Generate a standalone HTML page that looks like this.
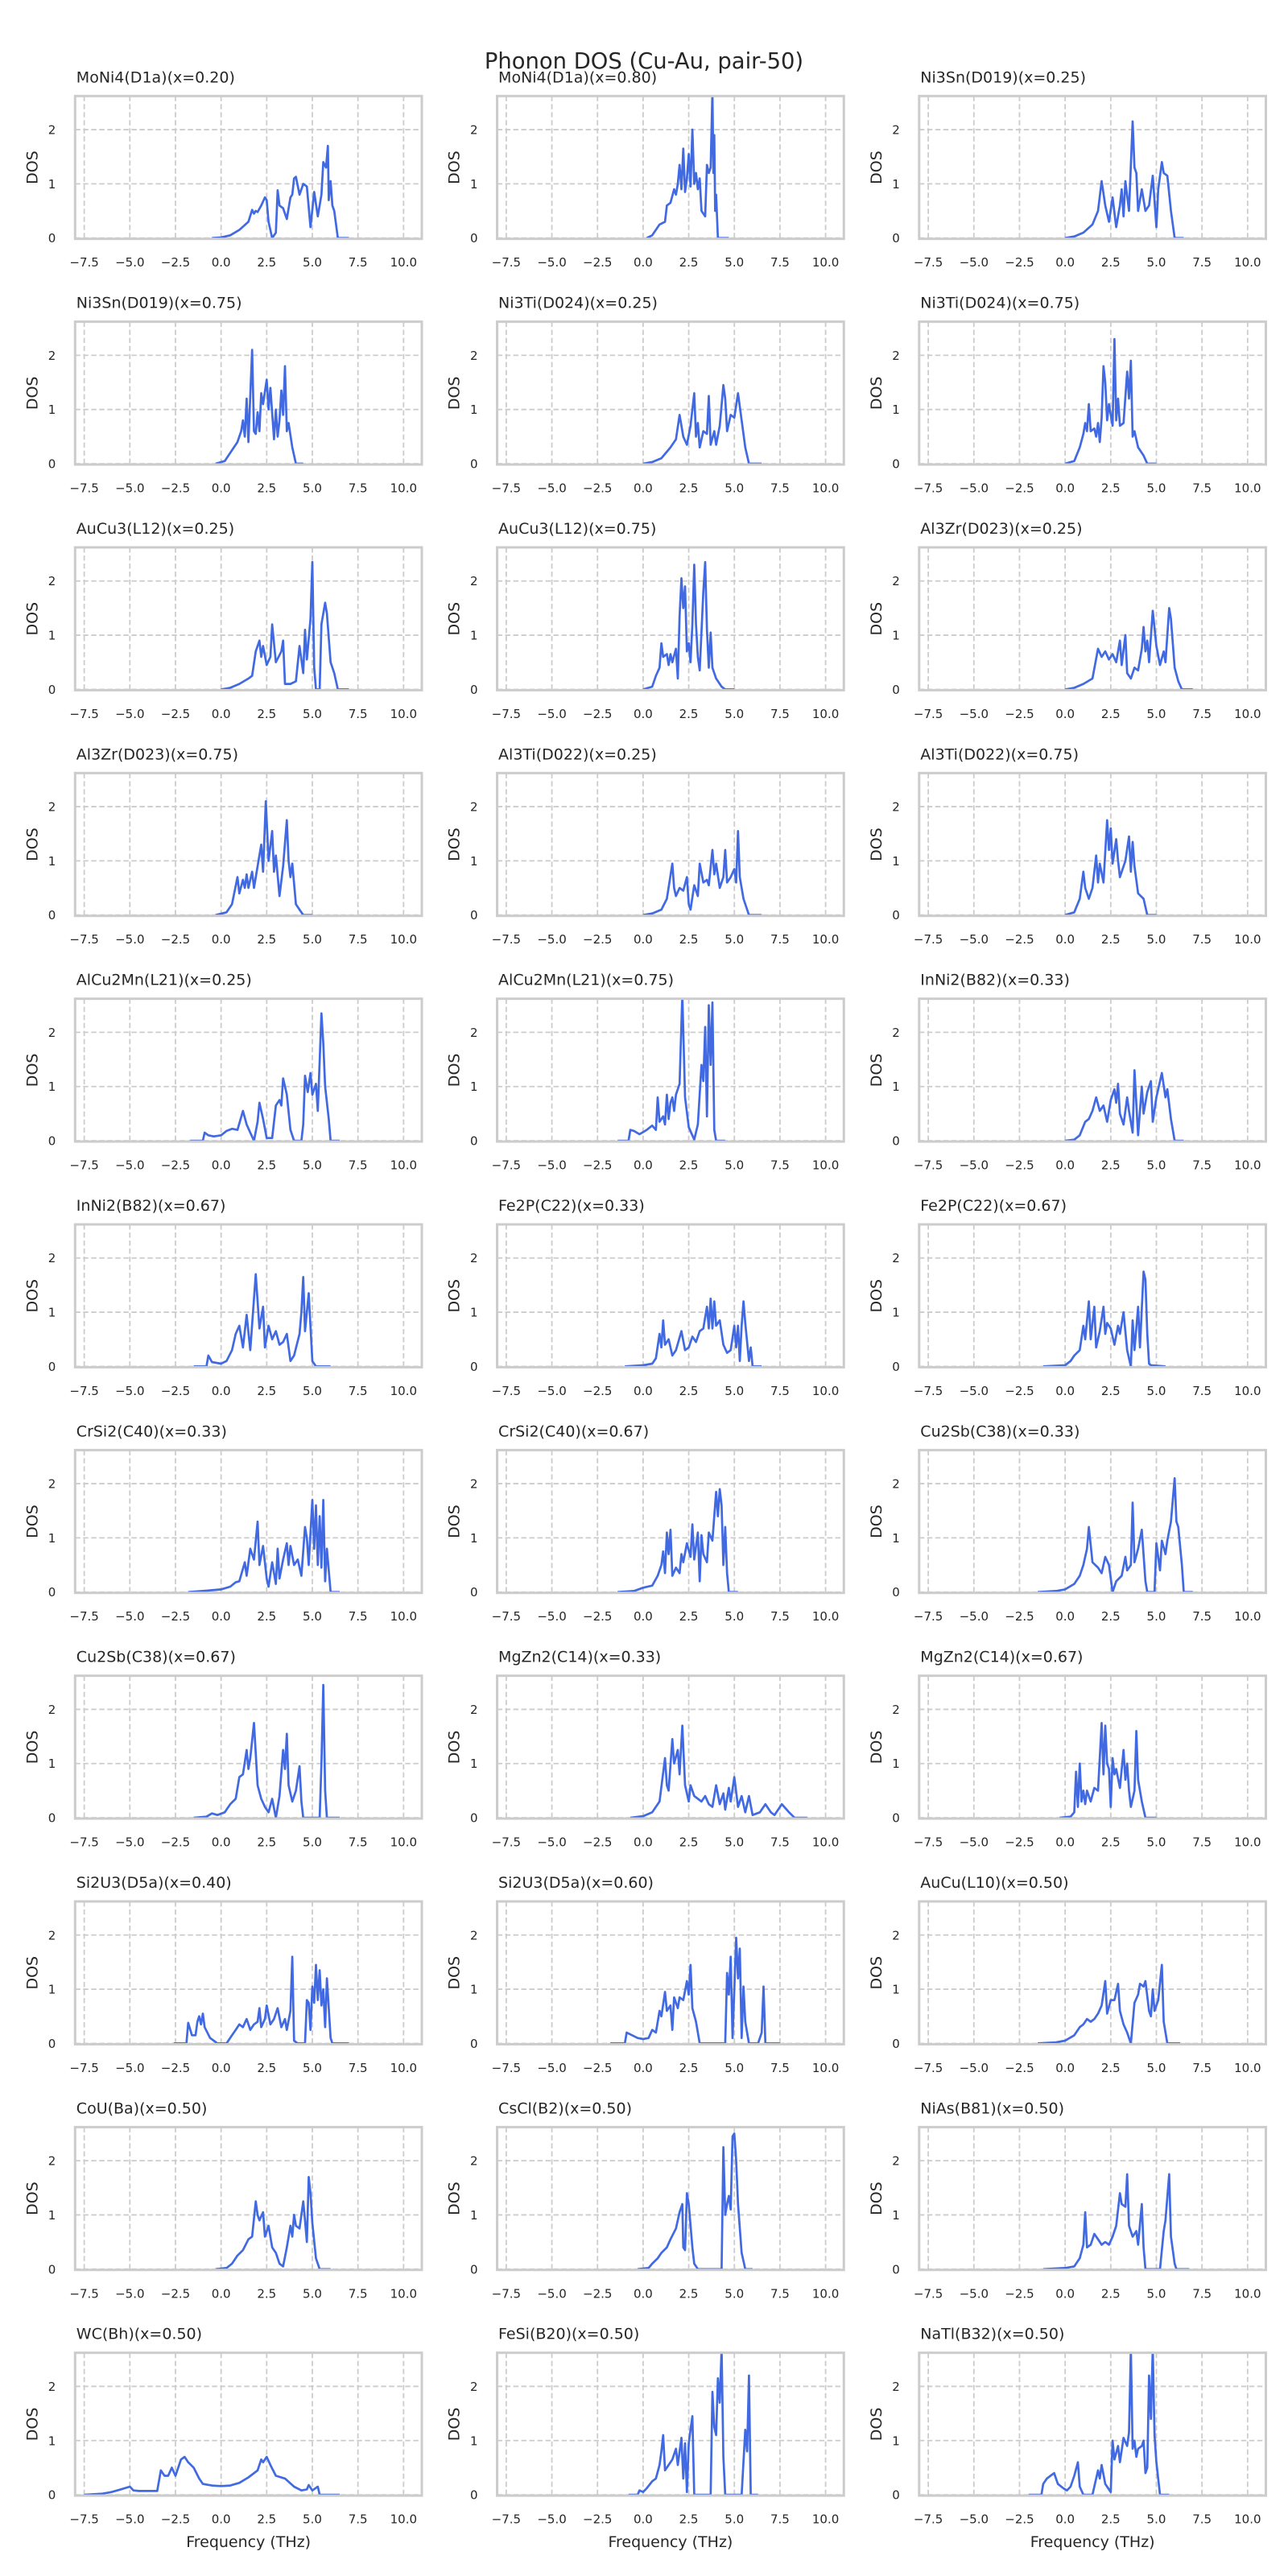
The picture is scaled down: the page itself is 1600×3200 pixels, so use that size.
<!DOCTYPE html>
<html><head><meta charset="utf-8">
<style>
html,body{margin:0;padding:0;background:#fff;}
svg{display:block;font-family:"DejaVu Sans","Liberation Sans",sans-serif;}
</style></head>
<body>
<svg id="fig" width="1600" height="3200" viewBox="0 0 1600 3200" xmlns="http://www.w3.org/2000/svg">
<rect x="0" y="0" width="1600" height="3200" fill="#fff"/>
<text x="800" y="85" text-anchor="middle" font-size="27.4" fill="#262626">Phonon DOS (Cu-Au, pair-50)</text>
</svg>
<script>
const titles = ["MoNi4(D1a)(x=0.20)","MoNi4(D1a)(x=0.80)","Ni3Sn(D019)(x=0.25)","Ni3Sn(D019)(x=0.75)","Ni3Ti(D024)(x=0.25)","Ni3Ti(D024)(x=0.75)","AuCu3(L12)(x=0.25)","AuCu3(L12)(x=0.75)","Al3Zr(D023)(x=0.25)","Al3Zr(D023)(x=0.75)","Al3Ti(D022)(x=0.25)","Al3Ti(D022)(x=0.75)","AlCu2Mn(L21)(x=0.25)","AlCu2Mn(L21)(x=0.75)","InNi2(B82)(x=0.33)","InNi2(B82)(x=0.67)","Fe2P(C22)(x=0.33)","Fe2P(C22)(x=0.67)","CrSi2(C40)(x=0.33)","CrSi2(C40)(x=0.67)","Cu2Sb(C38)(x=0.33)","Cu2Sb(C38)(x=0.67)","MgZn2(C14)(x=0.33)","MgZn2(C14)(x=0.67)","Si2U3(D5a)(x=0.40)","Si2U3(D5a)(x=0.60)","AuCu(L10)(x=0.50)","CoU(Ba)(x=0.50)","CsCl(B2)(x=0.50)","NiAs(B81)(x=0.50)","WC(Bh)(x=0.50)","FeSi(B20)(x=0.50)","NaTl(B32)(x=0.50)"];
const xTicks = [-7.5,-5.0,-2.5,0.0,2.5,5.0,7.5,10.0];
const xTickLabels = ["\u22127.5","\u22125.0","\u22122.5","0.0","2.5","5.0","7.5","10.0"];
const yTicks = [0,1,2];
const yTickLabels = ["0","1","2"];
const xDomain = [-8, 11];
const yDomain = [-0.015, 2.62];
// each series: [frequency (THz), DOS] pairs
const dosSeries = [
[[-0.5,0],[0,0.01],[0.5,0.05],[1,0.15],[1.5,0.3],[1.7,0.52],[1.8,0.45],[1.9,0.5],[2.0,0.48],[2.2,0.6],[2.4,0.75],[2.5,0.7],[2.6,0.3],[2.8,0],[3.0,0.1],[3.1,0.88],[3.2,0.6],[3.4,0.55],[3.6,0.35],[3.8,0.75],[3.9,0.8],[4.0,1.1],[4.1,1.13],[4.3,0.8],[4.5,1.0],[4.7,0.95],[4.9,0.2],[5.1,0.85],[5.3,0.4],[5.5,0.8],[5.6,1.4],[5.75,1.3],[5.85,1.7],[5.9,0.7],[6.0,1.05],[6.1,0.6],[6.2,0.5],[6.4,0],[7.0,0]],
[[0.2,0],[0.5,0.05],[0.9,0.25],[1.2,0.3],[1.3,0.6],[1.5,0.65],[1.7,0.9],[1.8,0.8],[1.9,1.0],[2.0,1.35],[2.1,0.9],[2.2,1.65],[2.3,0.85],[2.4,1.1],[2.5,1.55],[2.6,0.95],[2.7,2.0],[2.8,1.0],[2.9,1.2],[3.0,0.9],[3.1,1.1],[3.2,0.5],[3.4,0.4],[3.5,1.35],[3.6,1.2],[3.7,1.3],[3.8,2.7],[3.85,1.2],[3.9,1.9],[3.95,0.5],[4.0,0.8],[4.1,0],[4.7,0]],
[[0,0],[0.5,0.03],[1.0,0.1],[1.4,0.22],[1.5,0.25],[1.8,0.5],[2.0,1.05],[2.2,0.6],[2.4,0.3],[2.6,0.75],[2.8,0.2],[3.0,0.6],[3.1,0.9],[3.2,0.4],[3.3,1.05],[3.5,0.5],[3.7,2.15],[3.8,1.3],[3.9,1.2],[4.0,0.5],[4.2,0.9],[4.4,0.5],[4.6,0.6],[4.8,1.15],[5.0,0.2],[5.1,0.9],[5.3,1.4],[5.4,1.2],[5.6,1.15],[5.8,0.5],[6.0,0],[6.5,0]],
[[-0.3,0],[0.2,0.05],[0.6,0.25],[0.9,0.4],[1.1,0.6],[1.2,0.8],[1.3,0.5],[1.4,1.2],[1.5,0.4],[1.7,2.1],[1.8,0.6],[1.9,0.55],[2.0,0.95],[2.1,0.6],[2.2,1.3],[2.3,1.1],[2.5,1.55],[2.6,1.0],[2.7,1.4],[2.9,0.45],[3.0,1.0],[3.1,0.5],[3.2,0.8],[3.3,1.35],[3.4,0.9],[3.5,1.8],[3.6,0.6],[3.7,0.75],[3.9,0.3],[4.1,0],[4.5,0]],
[[0,0],[0.5,0.03],[1.0,0.1],[1.5,0.3],[1.8,0.45],[2.0,0.9],[2.2,0.5],[2.4,0.35],[2.6,0.7],[2.8,1.3],[2.9,0.5],[3.0,0.75],[3.1,0.3],[3.3,0.6],[3.5,0.55],[3.6,1.25],[3.7,0.35],[3.9,0.6],[4.0,0.35],[4.2,0.7],[4.4,1.45],[4.5,1.2],[4.6,0.6],[4.8,0.9],[5.0,0.85],[5.2,1.3],[5.4,0.8],[5.6,0.3],[5.8,0],[6.5,0]],
[[0,0],[0.5,0.05],[0.8,0.3],[1.0,0.55],[1.1,0.75],[1.2,0.6],[1.3,1.1],[1.4,0.6],[1.6,0.65],[1.7,0.5],[1.8,0.75],[1.9,0.4],[2.0,0.85],[2.1,1.8],[2.2,1.5],[2.3,0.8],[2.4,1.1],[2.6,0.7],[2.7,2.3],[2.8,0.8],[2.9,1.2],[3.0,0.7],[3.2,0.75],[3.4,1.7],[3.5,1.2],[3.6,1.9],[3.7,0.5],[3.8,0.6],[4.0,0.3],[4.3,0.15],[4.5,0],[5.0,0]],
[[0,0],[0.5,0.03],[1.0,0.1],[1.5,0.2],[1.7,0.25],[1.9,0.7],[2.1,0.9],[2.2,0.6],[2.3,0.8],[2.5,0.45],[2.7,0.6],[2.8,1.2],[3.0,0.5],[3.3,0.7],[3.4,0.9],[3.5,0.1],[3.8,0.1],[4.1,0.15],[4.3,0.8],[4.5,0.3],[4.6,1.1],[4.7,0.55],[4.9,1.3],[5.0,2.35],[5.1,0.4],[5.2,0],[5.4,0],[5.5,1.2],[5.7,1.6],[5.8,1.4],[6.0,0.5],[6.2,0.3],[6.4,0],[7.0,0]],
[[0,0],[0.5,0.05],[0.7,0.25],[0.9,0.4],[1.0,0.85],[1.1,0.6],[1.3,0.65],[1.4,0.45],[1.5,0.65],[1.6,0.5],[1.8,0.75],[1.9,0.2],[2.0,1.35],[2.1,2.05],[2.2,1.5],[2.3,1.9],[2.4,0.7],[2.5,0.85],[2.6,0.5],[2.7,1.2],[2.8,2.3],[2.9,1.2],[3.0,0.6],[3.1,0.35],[3.3,1.8],[3.4,2.35],[3.5,1.1],[3.6,0.4],[3.7,1.05],[3.8,0.4],[4.0,0.2],[4.3,0.05],[4.5,0],[5.0,0]],
[[0,0],[0.5,0.03],[1.0,0.1],[1.5,0.2],[1.8,0.75],[2.0,0.6],[2.2,0.7],[2.4,0.55],[2.6,0.65],[2.8,0.5],[3.0,0.9],[3.1,0.45],[3.3,1.0],[3.4,0.3],[3.6,0.2],[3.8,0.4],[4.0,0.35],[4.2,0.75],[4.3,1.15],[4.4,0.7],[4.5,0.9],[4.6,0.5],[4.8,1.45],[5.0,0.8],[5.2,0.45],[5.4,0.7],[5.5,0.5],[5.7,1.5],[5.8,1.3],[6.0,0.4],[6.2,0.15],[6.4,0],[7.0,0]],
[[-0.3,0],[0.3,0.05],[0.6,0.2],[0.9,0.7],[1.0,0.4],[1.2,0.65],[1.3,0.5],[1.4,0.75],[1.5,0.5],[1.7,0.8],[1.8,0.5],[2.0,0.9],[2.2,1.3],[2.3,0.8],[2.45,2.1],[2.6,1.0],[2.8,1.55],[2.9,0.8],[3.0,1.1],[3.2,0.35],[3.4,0.9],[3.6,1.75],[3.7,1.0],[3.8,0.7],[3.9,0.95],[4.1,0.2],[4.3,0.1],[4.5,0],[5.0,0]],
[[0,0],[0.5,0.03],[1.0,0.1],[1.3,0.3],[1.6,0.95],[1.7,0.5],[1.8,0.35],[2.0,0.5],[2.2,0.45],[2.4,0.7],[2.5,0.2],[2.6,0.1],[2.8,0.55],[3.0,0.35],[3.1,0.95],[3.3,0.6],[3.5,0.65],[3.6,0.55],[3.8,1.2],[3.9,0.75],[4.0,0.95],[4.2,0.5],[4.4,0.7],[4.5,1.2],[4.6,0.6],[4.8,0.7],[5.0,0.85],[5.1,0.6],[5.2,1.55],[5.3,0.7],[5.5,0.3],[5.8,0],[6.5,0]],
[[0,0],[0.5,0.05],[0.8,0.3],[1.0,0.8],[1.1,0.5],[1.3,0.3],[1.5,0.5],[1.7,1.1],[1.8,0.6],[1.9,0.95],[2.1,0.6],[2.3,1.75],[2.4,1.2],[2.5,1.6],[2.6,0.95],[2.8,1.4],[2.9,1.0],[3.0,0.7],[3.3,1.0],[3.5,1.45],[3.6,0.8],[3.7,1.35],[3.8,0.9],[4.0,0.4],[4.3,0.3],[4.5,0],[5.0,0]],
[[-1.7,0],[-1.0,0],[-0.9,0.15],[-0.7,0.1],[-0.4,0.08],[0,0.1],[0.3,0.18],[0.6,0.22],[0.9,0.2],[1.2,0.55],[1.4,0.3],[1.6,0.15],[1.8,0],[2.0,0.35],[2.1,0.7],[2.3,0.4],[2.5,0.05],[2.8,0.05],[3.0,0.65],[3.2,0.75],[3.3,0.65],[3.4,1.15],[3.6,0.85],[3.8,0.2],[4.0,0],[4.4,0],[4.5,0.3],[4.6,1.2],[4.75,0.9],[4.9,1.25],[5.0,0.85],[5.2,1.05],[5.3,0.55],[5.5,2.35],[5.6,1.8],[5.7,1.0],[5.9,0.4],[6.0,0],[6.5,0]],
[[-1.4,0],[-0.8,0],[-0.7,0.2],[-0.5,0.18],[-0.2,0.12],[0.2,0.2],[0.5,0.28],[0.7,0.2],[0.8,0.8],[0.9,0.35],[1.1,0.45],[1.2,0.3],[1.3,0.85],[1.4,0.4],[1.5,0.7],[1.6,0.8],[1.7,0.55],[1.8,0.85],[2.0,1.05],[2.15,2.7],[2.3,0.8],[2.5,0.25],[2.8,0.02],[3.0,0.3],[3.2,1.4],[3.3,1.1],[3.4,2.1],[3.5,0.45],[3.6,2.5],[3.7,1.4],[3.8,2.55],[3.9,0.2],[4.0,0],[4.5,0]],
[[0,0],[0.5,0.02],[0.8,0.1],[1.1,0.35],[1.3,0.4],[1.5,0.55],[1.7,0.8],[1.9,0.55],[2.1,0.65],[2.3,0.35],[2.5,0.75],[2.7,0.95],[2.8,0.7],[2.9,1.05],[3.0,0.5],[3.2,0.3],[3.4,0.8],[3.5,0.55],[3.7,0.15],[3.8,1.3],[4.0,0.1],[4.2,1.0],[4.3,0.5],[4.5,0.9],[4.7,1.1],[4.8,0.35],[5.0,0.8],[5.3,1.25],[5.5,0.8],[5.6,0.95],[5.8,0.4],[6.0,0],[6.5,0]],
[[-1.5,0],[-0.8,0],[-0.7,0.2],[-0.5,0.08],[0,0.05],[0.3,0.1],[0.6,0.3],[0.8,0.6],[1.0,0.75],[1.2,0.35],[1.4,0.95],[1.6,0.3],[1.9,1.7],[2.1,0.7],[2.3,1.1],[2.4,0.35],[2.6,0.75],[2.8,0.5],[3.0,0.65],[3.2,0.4],[3.4,0.45],[3.6,0.6],[3.8,0.1],[4.0,0.2],[4.3,0.6],[4.4,1.0],[4.5,1.65],[4.6,0.65],[4.8,1.35],[5.0,0.1],[5.2,0],[6.0,0]],
[[-1.0,0],[0,0.02],[0.5,0.05],[0.7,0.15],[0.9,0.6],[1.0,0.35],[1.1,0.85],[1.2,0.4],[1.4,0.5],[1.6,0.2],[1.8,0.3],[2.1,0.65],[2.3,0.3],[2.5,0.35],[2.7,0.55],[2.9,0.45],[3.1,0.65],[3.3,0.7],[3.5,1.1],[3.6,0.7],[3.7,1.25],[3.8,0.7],[3.9,1.2],[4.0,0.75],[4.2,0.85],[4.4,0.4],[4.6,0.25],[4.8,0.3],[5.0,0.75],[5.1,0.35],[5.2,0.75],[5.3,0.1],[5.4,0.75],[5.5,1.2],[5.6,0.8],[5.8,0.1],[5.9,0.35],[6.0,0],[6.5,0]],
[[-1.2,0],[0,0.02],[0.3,0.1],[0.5,0.2],[0.8,0.3],[1.0,0.75],[1.1,0.5],[1.3,1.2],[1.4,0.5],[1.6,1.1],[1.7,0.35],[1.9,0.65],[2.1,1.1],[2.2,0.6],[2.3,0.8],[2.5,0.7],[2.7,0.4],[2.9,0.75],[3.0,0.6],[3.2,1.0],[3.4,0.3],[3.6,0.0],[3.7,0.85],[3.8,0.3],[4.0,1.1],[4.1,0.35],[4.3,1.75],[4.4,1.6],[4.5,0.6],[4.6,0.05],[4.7,0.02],[5.5,0]],
[[-1.8,0],[-1,0.02],[0,0.05],[0.5,0.1],[0.8,0.18],[1.0,0.2],[1.3,0.55],[1.4,0.3],[1.6,0.8],[1.8,0.6],[2.0,1.3],[2.1,0.5],[2.3,0.85],[2.5,0.25],[2.6,0.1],[2.8,0.55],[3.0,0.15],[3.1,0.8],[3.2,0.25],[3.4,0.6],[3.6,0.9],[3.7,0.5],[3.8,0.85],[4.0,0.5],[4.2,0.6],[4.4,0.3],[4.6,1.2],[4.7,1.0],[4.8,0.5],[5.0,1.7],[5.1,0.8],[5.2,1.6],[5.3,0.5],[5.4,1.4],[5.5,0.45],[5.6,1.7],[5.7,0.2],[5.8,0.8],[6.0,0],[6.5,0]],
[[-1.4,0],[-0.5,0.02],[0,0.08],[0.5,0.12],[0.8,0.3],[1.0,0.5],[1.1,0.75],[1.2,0.35],[1.3,1.1],[1.4,0.7],[1.5,1.15],[1.6,0.3],[1.8,0.45],[2.0,0.35],[2.1,0.7],[2.2,0.55],[2.4,0.9],[2.6,0.65],[2.7,1.25],[2.8,0.6],[3.0,1.1],[3.1,0.2],[3.2,1.05],[3.3,0.7],[3.5,0.55],[3.6,1.1],[3.8,0.95],[4.0,1.85],[4.1,1.4],[4.2,1.9],[4.3,1.6],[4.4,0.5],[4.5,1.2],[4.6,0.35],[4.7,0],[5.2,0]],
[[-1.5,0],[-0.5,0.02],[0,0.05],[0.5,0.15],[0.8,0.3],[1.0,0.5],[1.2,0.8],[1.3,1.2],[1.5,0.55],[1.8,0.45],[2.0,0.35],[2.2,0.65],[2.4,0.5],[2.6,0],[2.8,0.2],[3.1,0.3],[3.3,0.65],[3.4,0.4],[3.6,0.5],[3.7,1.65],[3.8,0.55],[4.0,0.8],[4.2,1.15],[4.4,0.2],[4.5,0],[4.9,0],[5.0,0.9],[5.2,0.4],[5.3,0.95],[5.5,0.7],[5.6,0.95],[5.8,1.3],[6.0,2.1],[6.1,1.3],[6.2,1.2],[6.4,0.5],[6.5,0],[7.0,0]],
[[-1.5,0],[-0.8,0.02],[-0.5,0.08],[-0.2,0.05],[0.2,0.1],[0.5,0.25],[0.8,0.35],[1.0,0.75],[1.2,0.8],[1.4,1.25],[1.5,0.9],[1.6,1.1],[1.8,1.75],[2.0,0.6],[2.2,0.35],[2.4,0.2],[2.6,0.1],[2.8,0.35],[3.0,0],[3.2,0.4],[3.4,1.25],[3.5,0.9],[3.6,1.55],[3.7,0.6],[3.9,0.3],[4.1,0.5],[4.3,0.95],[4.4,0.3],[4.5,0],[5.4,0],[5.5,1.0],[5.6,2.45],[5.7,0.5],[5.8,0],[6.5,0]],
[[-0.7,0],[0,0.03],[0.5,0.1],[0.9,0.3],[1.2,1.1],[1.3,0.6],[1.4,0.5],[1.6,1.45],[1.7,1.0],[1.9,1.25],[2.0,0.8],[2.15,1.7],[2.3,0.6],[2.5,0.3],[2.6,0.6],[2.8,0.4],[3.0,0.35],[3.2,0.3],[3.4,0.4],[3.6,0.25],[3.8,0.2],[4.0,0.6],[4.2,0.25],[4.4,0.45],[4.5,0.15],[4.7,0.55],[4.8,0.3],[5.0,0.75],[5.2,0.2],[5.4,0.4],[5.6,0.1],[5.8,0.4],[6.0,0.05],[6.4,0.1],[6.7,0.25],[7.0,0.1],[7.2,0.05],[7.6,0.25],[8.0,0.1],[8.3,0],[9.0,0]],
[[-0.3,0],[0.3,0.02],[0.5,0.1],[0.6,0.85],[0.7,0.2],[0.8,1.0],[0.9,0.3],[1.0,0.5],[1.1,0.25],[1.2,0.5],[1.4,0.3],[1.6,0.55],[1.8,0.5],[2.0,1.75],[2.1,0.8],[2.2,1.7],[2.3,1.0],[2.4,0.9],[2.5,0.2],[2.6,1.1],[2.7,0.8],[2.8,0.9],[3.0,0.55],[3.2,1.25],[3.3,0.7],[3.4,1.0],[3.5,0.5],[3.6,0.2],[3.8,0.5],[3.9,1.6],[4.0,0.7],[4.2,0.3],[4.4,0],[5.0,0]],
[[-2.6,0],[-1.9,0],[-1.8,0.38],[-1.6,0.15],[-1.4,0.15],[-1.3,0.4],[-1.2,0.5],[-1.1,0.35],[-1.0,0.55],[-0.9,0.3],[-0.6,0.1],[-0.4,0.05],[-0.2,0],[0.3,0],[0.6,0.15],[0.8,0.25],[1.0,0.35],[1.2,0.3],[1.4,0.45],[1.6,0.25],[1.8,0.35],[2.0,0.4],[2.1,0.65],[2.2,0.3],[2.4,0.45],[2.5,0.7],[2.7,0.35],[2.9,0.45],[3.1,0.65],[3.3,0.3],[3.5,0.45],[3.6,0.25],[3.8,0.6],[3.9,1.6],[4.0,0.05],[4.2,0],[4.6,0],[4.7,0.8],[4.8,0.75],[4.9,0.25],[5.0,1.05],[5.1,0.75],[5.2,1.45],[5.3,0.8],[5.4,1.35],[5.5,0.7],[5.6,1.0],[5.7,0.3],[5.8,1.2],[6.0,0.1],[6.1,0],[7.0,0]],
[[-1.8,0],[-1.0,0],[-0.9,0.2],[-0.6,0.15],[-0.3,0.1],[0,0.08],[0.3,0.1],[0.5,0.25],[0.7,0.2],[0.9,0.6],[1.0,0.5],[1.2,0.95],[1.3,0.6],[1.5,0.7],[1.6,0.25],[1.7,0.85],[1.9,0.65],[2.0,0.85],[2.2,0.8],[2.4,1.15],[2.5,0.9],[2.6,1.45],[2.7,0.65],[2.9,0.4],[3.1,0],[4.5,0],[4.6,1.3],[4.7,0.9],[4.8,1.6],[4.9,0.1],[5.1,1.95],[5.2,1.2],[5.3,1.75],[5.4,0.1],[5.5,1.05],[5.6,0.4],[5.8,0],[6.3,0],[6.5,0.2],[6.6,1.05],[6.7,0],[7.5,0]],
[[-1.5,0],[-0.5,0.02],[0,0.05],[0.5,0.15],[0.8,0.3],[1.0,0.35],[1.2,0.45],[1.4,0.4],[1.6,0.45],[1.8,0.55],[2.0,0.7],[2.2,1.15],[2.3,0.55],[2.5,0.8],[2.7,0.8],[2.9,1.1],[3.0,0.6],[3.2,0.35],[3.4,0.2],[3.6,0],[3.8,0.75],[4.0,0.9],[4.1,1.1],[4.3,1.05],[4.4,1.15],[4.6,0.6],[4.7,0.5],[4.8,1.0],[4.9,0.6],[5.1,0.8],[5.3,1.45],[5.4,0.4],[5.6,0],[6.3,0]],
[[-0.3,0],[0.3,0.02],[0.6,0.1],[0.9,0.25],[1.2,0.35],[1.5,0.55],[1.7,0.6],[1.9,1.25],[2.0,1.0],[2.1,0.9],[2.3,1.05],[2.4,0.6],[2.6,0.8],[2.8,0.4],[3.0,0.3],[3.2,0.1],[3.4,0.05],[3.6,0.4],[3.8,0.8],[3.9,0.6],[4.0,1.0],[4.1,0.8],[4.3,0.75],[4.5,1.25],[4.6,0.9],[4.7,0.5],[4.8,1.7],[4.9,1.4],[5.0,0.85],[5.2,0.2],[5.4,0],[6.0,0]],
[[-0.3,0],[0.3,0.02],[0.5,0.1],[0.8,0.2],[1.0,0.3],[1.3,0.4],[1.5,0.55],[1.8,0.75],[2.0,1.05],[2.15,1.2],[2.2,0.4],[2.3,0.35],[2.4,1.4],[2.5,1.2],[2.7,0.4],[2.8,0.1],[3.0,0],[4.3,0],[4.4,2.25],[4.5,1.0],[4.6,1.2],[4.7,1.35],[4.8,1.1],[4.9,2.45],[5.0,2.5],[5.1,2.0],[5.2,1.2],[5.4,0.3],[5.6,0],[6.0,0]],
[[-1.2,0],[0,0.02],[0.5,0.05],[0.8,0.2],[1.0,0.45],[1.1,1.05],[1.2,0.4],[1.4,0.45],[1.6,0.65],[1.8,0.55],[2.0,0.45],[2.2,0.5],[2.4,0.45],[2.6,0.6],[2.8,0.8],[3.0,1.4],[3.1,1.2],[3.3,1.15],[3.4,1.75],[3.5,0.8],[3.7,0.6],[3.9,0.7],[4.0,0.45],[4.2,1.2],[4.3,0.4],[4.4,0],[5.2,0],[5.4,0.7],[5.5,0.9],[5.7,1.75],[5.8,0.6],[6.0,0.1],[6.1,0],[6.8,0]],
[[-7.5,0],[-6.5,0.02],[-6.0,0.05],[-5.5,0.1],[-5.0,0.15],[-4.8,0.08],[-4.5,0.07],[-3.5,0.07],[-3.3,0.45],[-3.1,0.35],[-2.9,0.35],[-2.7,0.5],[-2.5,0.35],[-2.2,0.65],[-2.0,0.7],[-1.8,0.6],[-1.5,0.5],[-1.2,0.3],[-1.0,0.2],[-0.5,0.17],[0,0.16],[0.5,0.17],[1.0,0.22],[1.5,0.32],[2.0,0.45],[2.2,0.65],[2.3,0.6],[2.5,0.7],[2.7,0.55],[3.0,0.35],[3.5,0.3],[4.0,0.15],[4.4,0.08],[4.7,0.1],[4.8,0.18],[5.0,0.08],[5.3,0.15],[5.4,0],[6.5,0]],
[[-0.8,0],[-0.3,0],[-0.2,0.08],[0,0.05],[0.2,0.12],[0.5,0.25],[0.7,0.3],[0.9,0.55],[1.0,0.8],[1.1,1.1],[1.2,0.45],[1.4,0.55],[1.6,0.65],[1.8,0.85],[1.9,0.55],[2.1,1.05],[2.2,0.3],[2.3,0.95],[2.4,0.05],[2.5,0.95],[2.6,1.2],[2.7,1.45],[2.8,0],[3.7,0],[3.8,1.9],[3.9,1.25],[4.0,1.1],[4.1,2.15],[4.2,1.7],[4.3,2.7],[4.4,0.7],[4.5,0],[5.4,0],[5.6,1.2],[5.7,0.8],[5.8,2.2],[5.9,0],[6.3,0]],
[[-2.0,0],[-1.3,0],[-1.2,0.2],[-1.0,0.3],[-0.8,0.35],[-0.6,0.4],[-0.4,0.2],[-0.1,0.12],[0.1,0.08],[0.3,0.15],[0.5,0.35],[0.7,0.6],[0.8,0.15],[1.0,0],[1.5,0],[1.8,0.45],[1.9,0.3],[2.0,0.55],[2.2,0.2],[2.5,0.05],[2.6,1.0],[2.7,0.65],[2.9,0.9],[3.0,0.6],[3.2,1.05],[3.4,0.9],[3.5,1.15],[3.6,2.7],[3.7,0.85],[3.8,1.0],[3.9,0.7],[4.0,0.85],[4.2,0.9],[4.3,1.0],[4.4,0.4],[4.5,0.5],[4.6,2.2],[4.7,1.4],[4.8,2.7],[4.9,1.1],[5.0,0.6],[5.2,0],[5.7,0]]
];

const NS = "http://www.w3.org/2000/svg";
const svg = document.getElementById("fig");
const AX_W = 430.7, AX_H = 177.4, COL0 = 93.3, COL_STEP = 524.25, ROW0 = 119.3, ROW_STEP = 280.34;
function mk(tag, attrs, parent) {
  const e = document.createElementNS(NS, tag);
  for (const k in attrs) e.setAttribute(k, attrs[k]);
  (parent || svg).appendChild(e);
  return e;
}
const defs = mk("defs", {});
titles.forEach((title, i) => {
  const col = i % 3, row = Math.floor(i / 3);
  const L = COL0 + col * COL_STEP, T = ROW0 + row * ROW_STEP;
  const xs = f => L + (f - xDomain[0]) / (xDomain[1] - xDomain[0]) * AX_W;
  const ys = d => T + (yDomain[1] - d) / (yDomain[1] - yDomain[0]) * AX_H;
  const g = mk("g", {});
  
  
  const cp = mk("clipPath", {id: "clip" + i}, defs);
  mk("rect", {x: L, y: T, width: AX_W, height: AX_H}, cp);
  const grid = mk("g", {stroke: "#cccccc", "stroke-width": 1.8, "stroke-dasharray": "6.5,3.5", fill: "none"}, g);
  
  
  xTicks.forEach((t, k) => {
    mk("line", {x1: xs(t), x2: xs(t), y1: T, y2: T + AX_H}, grid);
    const lb = mk("text", {x: xs(t), y: T + AX_H + 34.5, "text-anchor": "middle", "font-size": 15, fill: "#262626"}, g);
    lb.textContent = xTickLabels[k];
    
    
  });
  yTicks.forEach((t, k) => {
    mk("line", {x1: L, x2: L + AX_W, y1: ys(t), y2: ys(t)}, grid);
    const lb = mk("text", {x: L - 24, y: ys(t) + 5.5, "text-anchor": "end", "font-size": 15, fill: "#262626"}, g);
    lb.textContent = yTickLabels[k];
    
    
  });
  const pts = dosSeries[i].map(p => xs(p[0]).toFixed(1) + "," + ys(p[1]).toFixed(1)).join(" ");
  const line = mk("polyline", {points: pts, fill: "none", stroke: "#4169e1", "stroke-width": 2.7, "stroke-linejoin": "round", "clip-path": "url(#clip" + i + ")"}, g);
  
  
  const sp = mk("rect", {x: L, y: T, width: AX_W, height: AX_H, fill: "none", stroke: "#cccccc", "stroke-width": 3}, g);
  
  
  const tt = mk("text", {x: L + 1.5, y: T - 17, "font-size": 19, fill: "#262626"}, g);
  tt.textContent = title;
  
  
  const cy = T + AX_H / 2;
  const cx = L - 54;
  const yl = mk("text", {x: cx, y: cy + 7, "text-anchor": "middle", "font-size": 19, fill: "#262626", transform: "rotate(-90 " + cx + " " + cy + ")"}, g);
  yl.textContent = "DOS";
  
  
  if (row === 10) {
    const xl = mk("text", {x: L + AX_W / 2, y: T + AX_H + 64, "text-anchor": "middle", "font-size": 19, fill: "#262626"}, g);
    xl.textContent = "Frequency (THz)";
    
    
  }
});
</script>
</body></html>
